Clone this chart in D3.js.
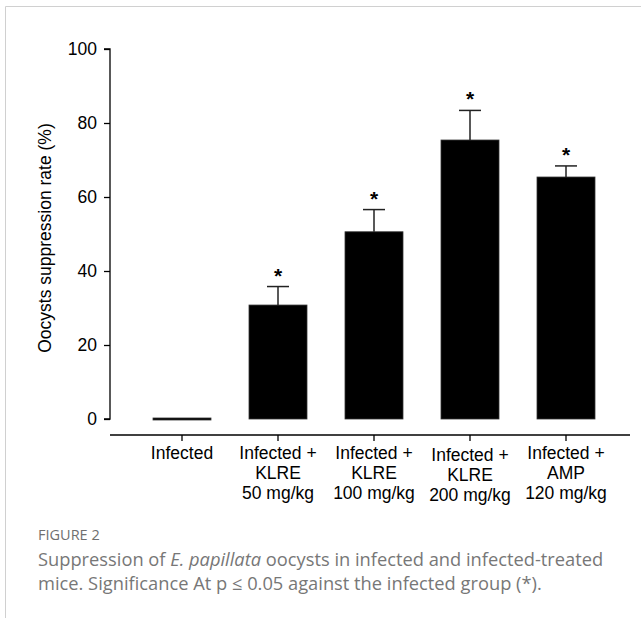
<!DOCTYPE html>
<html><head><meta charset="utf-8">
<script src="https://cdn.jsdelivr.net/npm/d3@7"></script>
<style>body{margin:0;background:#fff}</style>
</head><body>
<svg id="c" width="641" height="618"></svg>
<script>
const categories = [
  ["Infected"],
  ["Infected +", "KLRE", "50 mg/kg"],
  ["Infected +", "KLRE", "100 mg/kg"],
  ["Infected +", "KLRE", "200 mg/kg"],
  ["Infected +", "AMP", "120 mg/kg"]
];
const means = [0, 30.8, 50.6, 75.4, 65.4];
const errors = [0, 5.0, 6.0, 8.0, 3.0];
const significant = [false, true, true, true, true];
const yTicks = [0, 20, 40, 60, 80, 100];

const svg = d3.select("#c");
const font = "'Liberation Sans', Arial, sans-serif";

// card border
svg.append("path").attr("d", "M5.5,618 V6.5 H641").attr("fill", "none").attr("stroke", "#d0d0d0").attr("stroke-width", 1);

const y = d3.scaleLinear().domain([0, 100]).range([419, 49]);
const x = d3.scaleBand().domain(d3.range(categories.length)).range([134, 614]).paddingInner(0.396).paddingOuter(0.198);

// y axis
const yAxis = d3.axisLeft(y).tickValues(yTicks).tickSize(6).tickPadding(7);
const gy = svg.append("g").attr("transform", "translate(110,0)").call(yAxis);
gy.select(".domain").attr("d", "M-6," + y(100) + "H0V" + y(0) + "H-6").attr("stroke", "#000").attr("stroke-width", 1.3);
gy.selectAll(".tick line").attr("stroke", "#000").attr("stroke-width", 1.3);
gy.selectAll(".tick text").attr("font-family", font).attr("font-size", 17.5).attr("fill", "#000");

// x axis
const xAxis = d3.axisBottom(x).tickSize(6).tickFormat("");
const gx = svg.append("g").attr("transform", "translate(0,435)").call(xAxis);
gx.select(".domain").attr("d", "M110,0H630").attr("stroke", "#000").attr("stroke-width", 1.3);
gx.selectAll(".tick line").attr("stroke", "#000").attr("stroke-width", 1.3);

// x labels
categories.forEach((lines, i) => {
  const t = svg.append("text").attr("text-anchor", "middle").attr("font-family", font)
    .attr("font-size", 17.5).attr("fill", "#000");
  lines.forEach((l, j) => {
    t.append("tspan").attr("x", x(i) + x.bandwidth() / 2).attr("y", 459 + j * 20 + (i === 3 ? 2 : 0)).text(l);
  });
});

// bars
const bw = x.bandwidth();
svg.selectAll("rect.bar").data(means).enter().append("rect").attr("class", "bar")
  .attr("x", (d, i) => x(i)).attr("width", bw)
  .attr("y", d => y(d) - (d === 0 ? 1 : 0)).attr("height", d => Math.max(2, y(0) - y(d)))
  .attr("fill", "#000").attr("stroke", "#333").attr("stroke-width", 0.8);

// error bars
means.forEach((m, i) => {
  if (errors[i] <= 0) return;
  const cx = x(i) + bw / 2;
  svg.append("line").attr("x1", cx).attr("x2", cx).attr("y1", y(m)).attr("y2", y(m + errors[i]))
    .attr("stroke", "#222").attr("stroke-width", 1.5);
  svg.append("line").attr("x1", cx - 11).attr("x2", cx + 11).attr("y1", y(m + errors[i])).attr("y2", y(m + errors[i]))
    .attr("stroke", "#222").attr("stroke-width", 1.5);
  if (significant[i]) {
    svg.append("text").attr("x", cx).attr("y", y(m + errors[i]) - 4).attr("text-anchor", "middle")
      .attr("font-family", font).attr("font-weight", "bold").attr("font-size", 21).attr("fill", "#000").text("*");
  }
});

// y label
svg.append("text").attr("transform", "translate(51,238) rotate(-90)").attr("text-anchor", "middle")
  .attr("font-family", font).attr("font-size", 17.5).attr("fill", "#000").text("Oocysts suppression rate (%)");

// caption
const capFont = "'Open Sans', 'Noto Sans', sans-serif";
svg.append("text").attr("x", 38).attr("y", 540).attr("font-family", capFont).attr("font-size", 14.5)
  .attr("fill", "#6f6f6f").text("FIGURE 2");
const c1 = svg.append("text").attr("x", 38).attr("y", 566).attr("font-family", capFont).attr("font-size", 18.3).attr("fill", "#777");
c1.append("tspan").text("Suppression of ");
c1.append("tspan").attr("font-style", "italic").text("E. papillata");
c1.append("tspan").text(" oocysts in infected and infected-treated");
svg.append("text").attr("x", 38).attr("y", 590).attr("font-family", capFont).attr("font-size", 18.3).attr("fill", "#777")
  .text("mice. Significance At p \u2264 0.05 against the infected group (*).");
</script>
</body></html>
